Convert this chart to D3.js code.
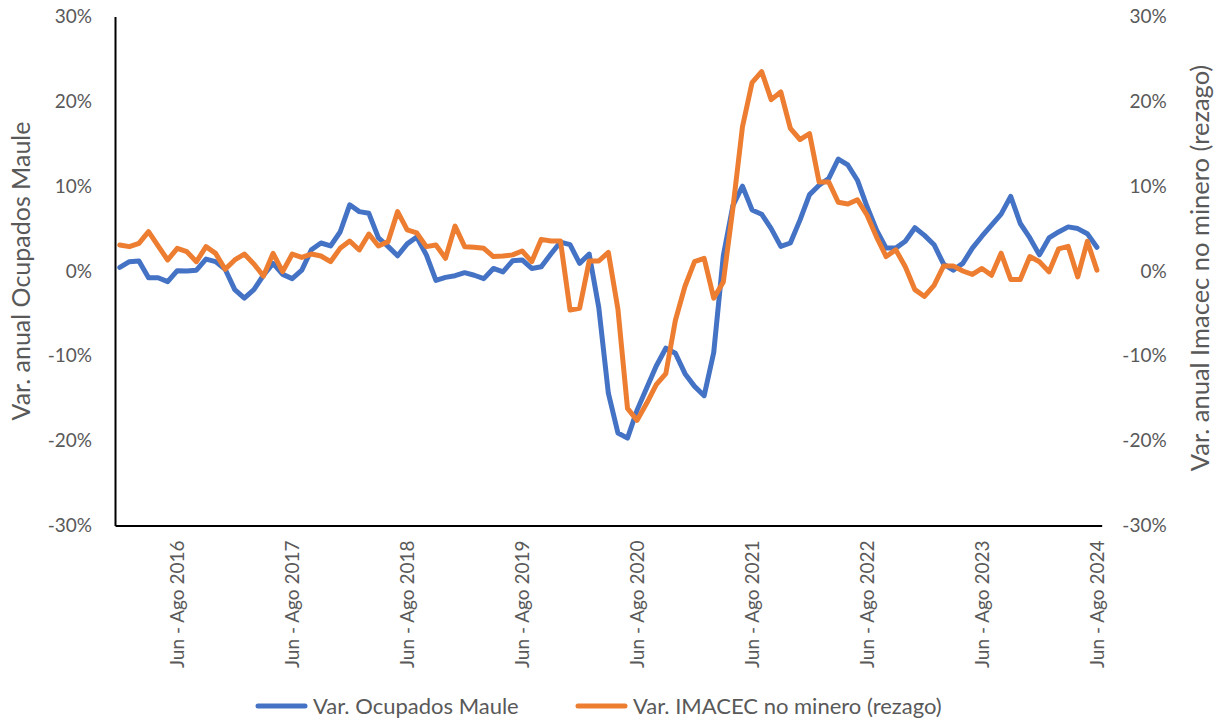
<!DOCTYPE html>
<html>
<head>
<meta charset="utf-8">
<script src="https://cdn.jsdelivr.net/npm/d3@7"></script>
<style>
  body { margin: 0; background: #fff; }
  svg { display: block; }
  text { font-family: Lato, "Open Sans", sans-serif; fill: #595959; }
</style>
</head>
<body>
<svg id="chart" width="1221" height="719"></svg>
<script>
// ---------- data ----------
const monthNames = ["Ene","Feb","Mar","Abr","May","Jun","Jul","Ago","Sep","Oct","Nov","Dic"];
const firstEndMonth = 1;      // Feb (index in monthNames) of the first moving quarter
const firstEndYear = 2016;    // first quarter: Dic - Feb 2016
const nCategories = 103;      // last quarter: Jun - Ago 2024

const ocupadosMaule = [
  0.43, 1.1, 1.18, -0.8, -0.8, -1.26, 0.04, 0.0, 0.1, 1.4,
  1.1, 0.2, -2.2, -3.2, -2.2, -0.5, 0.9, -0.4, -0.9, 0.1,
  2.5, 3.3, 2.95, 4.6, 7.8, 7.0, 6.8, 3.9, 2.9, 1.8,
  3.2, 4.0, 1.9, -1.1, -0.75, -0.55, -0.2, -0.5, -0.9, 0.3,
  -0.1, 1.2, 1.3, 0.3, 0.5, 2.0, 3.4, 3.1, 0.9, 2.0,
  -4.3, -14.4, -19.1, -19.7, -16.4, -13.8, -11.2, -9.1, -9.7, -12.1,
  -13.6, -14.7, -9.6, 1.8, 7.7, 10.0, 7.2, 6.7, 5.0, 2.9,
  3.3, 6.0, 9.0, 10.1, 10.9, 13.2, 12.5, 10.7, 7.6, 4.8,
  2.7, 2.7, 3.5, 5.1, 4.2, 3.1, 0.8, 0.1, 0.9, 2.7,
  4.1, 5.4, 6.7, 8.8, 5.6, 3.9, 1.9, 3.9, 4.6, 5.2,
  5.0, 4.4, 2.8
];
const imacecNoMinero = [
  3.07, 2.87, 3.26, 4.64, 2.95, 1.3, 2.67, 2.28, 1.1, 2.87,
  2.08, 0.2, 1.3, 2.0, 0.83, -0.6, 2.08, -0.08, 2.0, 1.6,
  2.0, 1.77, 1.1, 2.67, 3.54, 2.48, 4.36, 2.95, 3.46, 7.0,
  4.84, 4.5, 2.87, 3.07, 1.5, 5.3, 2.87, 2.8, 2.67, 1.7,
  1.77, 1.9, 2.36, 1.1, 3.73, 3.54, 3.54, -4.6, -4.4, 1.18,
  1.18, 2.2, -4.5, -16.2, -17.6, -15.6, -13.4, -12.1, -5.8, -1.8,
  1.1, 1.5, -3.2, -1.3, 7.4, 17.0, 22.2, 23.5, 20.2, 21.1,
  16.8, 15.5, 16.2, 10.5, 10.5, 8.1, 7.9, 8.4, 6.6, 4.0,
  1.7, 2.5, 0.5, -2.2, -3.0, -1.7, 0.6, 0.6, 0.0, -0.4,
  0.3, -0.5, 2.1, -1.0, -1.0, 1.7, 1.1, -0.1, 2.6, 2.9,
  -0.7, 3.5, 0.1
];
const yTicks = [-30, -20, -10, 0, 10, 20, 30];
const shownQuarterStart = "Jun"; // only "Jun - Ago" quarters are labelled
const seriesNames = ["Var. Ocupados Maule", "Var. IMACEC no minero (rezago)"];
const axisTitles = ["Var. anual Ocupados Maule", "Var. anual Imacec no minero (rezago)"];

// category labels "Mmm - Mmm YYYY" (moving quarters)
const categories = d3.range(nCategories).map(i => {
  const endAbs = firstEndMonth + i;
  const endM = endAbs % 12;
  const year = firstEndYear + Math.floor(endAbs / 12);
  const startM = (endM + 10) % 12;
  return monthNames[startM] + " - " + monthNames[endM] + " " + year;
});

// ---------- layout ----------
const svg = d3.select("#chart");
const L = 115, R = 1101.7, T = 16.5, B = 525.5;
const colors = ["#4472C4", "#ED7D31"];

const x = d3.scalePoint().domain(categories).range([L, R]).padding(0.5);
const y = d3.scaleLinear().domain([-30, 30]).range([B, T]);

// left axis
const gL = svg.append("g").attr("transform", `translate(${L},0)`)
  .call(d3.axisLeft(y).tickValues(yTicks).tickSize(0).tickPadding(23).tickFormat(d => d + "%"));
gL.select(".domain").attr("stroke", "#000").attr("stroke-width", 2);
gL.selectAll("text").style("font-size", "19px").style("fill", "#595959").style("font-family", "Lato");

// right axis
const gR = svg.append("g").attr("transform", `translate(${R},0)`)
  .call(d3.axisRight(y).tickValues(yTicks).tickSize(0).tickPadding(0).tickFormat(d => d + "%"));
gR.select(".domain").remove();
gR.selectAll("text").attr("text-anchor", "end").attr("x", 65)
  .style("font-size", "19px").style("fill", "#595959").style("font-family", "Lato");

// bottom axis
const gB = svg.append("g").attr("transform", `translate(0,${B})`)
  .call(d3.axisBottom(x).tickValues(categories.filter(c => c.startsWith(shownQuarterStart))).tickSize(0));
gB.select(".domain").attr("stroke", "#000").attr("stroke-width", 2);
gB.selectAll("text")
  .attr("transform", "rotate(-90)")
  .attr("text-anchor", "end")
  .attr("x", -15).attr("y", 0).attr("dy", "0.35em")
  .style("font-size", "19px").style("fill", "#595959").style("font-family", "Lato");

// lines
const line = d3.line().x((d, i) => x(categories[i])).y(d => y(d));
[ocupadosMaule, imacecNoMinero].forEach((s, k) => {
  svg.append("path").datum(s)
    .attr("d", line)
    .attr("fill", "none")
    .attr("stroke", colors[k])
    .attr("stroke-width", 5)
    .attr("stroke-linejoin", "round")
    .attr("stroke-linecap", "round");
});

// axis titles
svg.append("text")
  .attr("transform", `translate(30,${(T + B) / 2}) rotate(-90)`)
  .attr("text-anchor", "middle")
  .style("font-size", "25px")
  .text(axisTitles[0]);
svg.append("text")
  .attr("transform", `translate(1209,268) rotate(-90)`)
  .attr("text-anchor", "middle")
  .style("font-size", "25.5px")
  .text(axisTitles[1]);

// legend
const legendX = [258, 578];
seriesNames.forEach((n, k) => {
  const g = svg.append("g").attr("transform", `translate(${legendX[k]},706)`);
  g.append("line").attr("x1", 0).attr("x2", 47).attr("y1", 0).attr("y2", 0)
    .attr("stroke", colors[k]).attr("stroke-width", 5).attr("stroke-linecap", "round");
  g.append("text").attr("x", 55).attr("dy", "0.35em").style("font-size", "22px").text(n);
});
</script>
</body>
</html>
